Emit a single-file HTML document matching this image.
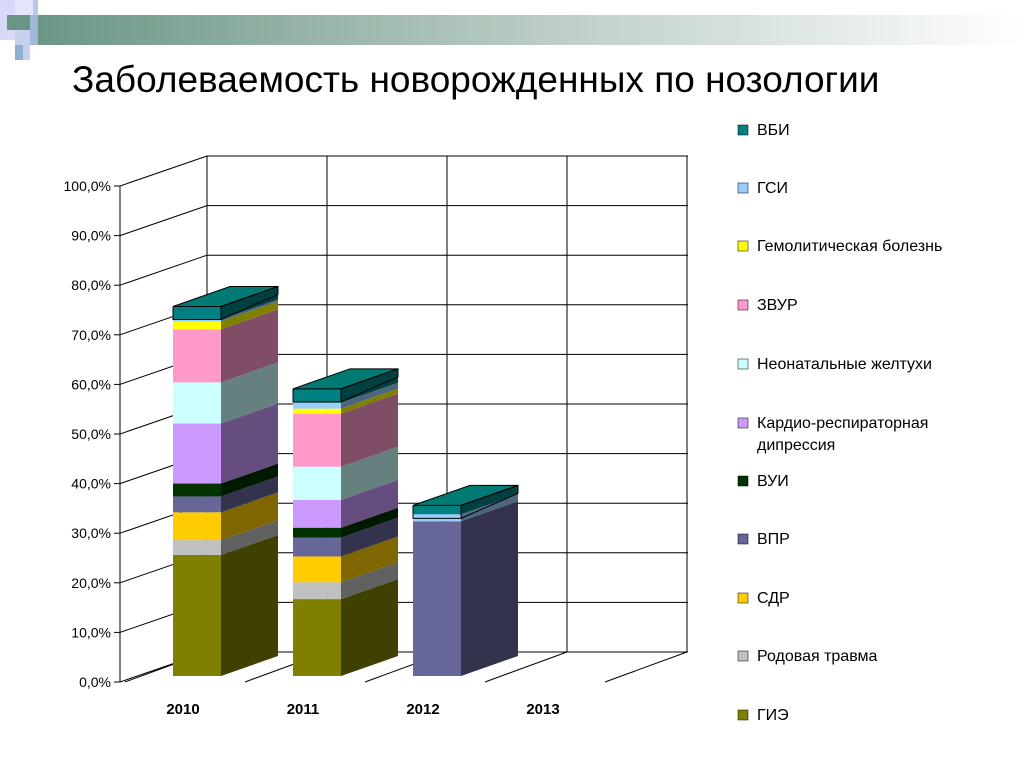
<!DOCTYPE html>
<html><head><meta charset="utf-8"><style>
body{margin:0;background:#fff;}
svg{display:block;font-family:"Liberation Sans",Arial,sans-serif;}
</style></head><body>
<svg width="1024" height="768" viewBox="0 0 1024 768">
<defs><linearGradient id="band" x1="0" x2="1"><stop offset="0" stop-color="#6a9684"/><stop offset="0.5" stop-color="#b9cbc2"/><stop offset="1" stop-color="#ffffff"/></linearGradient></defs>
<g>
<rect x="30" y="15" width="994" height="30" fill="url(#band)"/>
<rect x="0" y="0" width="15" height="40" fill="#d8d8f8"/>
<rect x="15" y="0" width="18" height="15" fill="#e4e4fa"/>
<rect x="33" y="0" width="5" height="15" fill="#b8c8e8"/>
<rect x="7" y="15" width="23" height="15" fill="#6a9684"/>
<rect x="30" y="15" width="8" height="30" fill="#a0b8d8"/>
<rect x="15" y="30" width="15" height="30" fill="#c8d0f0"/>
<rect x="15" y="45" width="8" height="15" fill="#90b0d0"/>
</g>
<text x="72" y="92" font-size="37" fill="#000">Заболеваемость новорожденных по нозологии</text>
<g id="grid"></g>
<g id="bars"></g>
<g id="legend"></g>
</svg>
<script>
const categories = ["2010","2011","2012","2013"];
const seriesNames = ["ГИЭ","Родовая травма","СДР","ВПР","ВУИ","Кардио-респираторная дипрессия","Неонатальные желтухи","ЗВУР","Гемолитическая болезнь","ГСИ","ВБИ"];
const s2010 = [24.4,3.0,5.6,3.2,2.6,12.1,8.3,10.7,1.6,0.4,2.6];
const s2011 = [15.5,3.4,5.2,3.8,2.0,5.6,6.7,10.7,1.0,1.2,2.8];
const s2012 = [0,0,0,31.2,0,0,0,0,0,1.4,1.8];
const s2013 = [0,0,0,0,0,0,0,0,0,0,0];
const yTicks = [0,10,20,30,40,50,60,70,80,90,100];
const values = [s2010,s2011,s2012,s2013];
const fronts = ["#808000","#C0C0C0","#FFCC00","#666699","#003300","#CC99FF","#CCFFFF","#FF99CC","#FFFF00","#99CCFF","#008080"];
const sides = ["#404000","#606060","#806600","#33334D","#001a00","#664D80","#668080","#804D66","#808000","#4D6680","#004040"];
const NS="http://www.w3.org/2000/svg";
function mk(tag,attrs,parent){const e=document.createElementNS(NS,tag);for(const k in attrs)e.setAttribute(k,attrs[k]);parent.appendChild(e);return e;}
// axes
const axY0=682, axPer=4.96, DX=87, DY=-30;
function yAxis(v){return axY0-v*axPer;}
function barY(v){return 676-v*4.96;}
function catX(i){return 173+i*120;}
const grid=document.getElementById('grid');
// back wall grid
yTicks.forEach(t=>{
  const l=mk('line',{x1:207,x2:688,y1:yAxis(t)+DY,y2:yAxis(t)+DY,stroke:'#000','stroke-width':1},grid);
  
  
  const d=mk('line',{x1:120,y1:yAxis(t),x2:207,y2:yAxis(t)+DY,stroke:'#000','stroke-width':1},grid);
  
  
  const tk=mk('line',{x1:114,x2:120,y1:yAxis(t),y2:yAxis(t),stroke:'#000'},grid);
  
  
  const tx=mk('text',{x:111,y:yAxis(t)+5,'text-anchor':'end','font-size':14},grid);
  tx.textContent=t.toFixed(1).replace('.',',')+'%';
  
  
});
for(let i=0;i<=4;i++){
  const x=207+i*120;
  const v=mk('line',{x1:x,x2:x,y1:yAxis(100)+DY,y2:yAxis(0)+DY,stroke:'#000'},grid);
  
  
  const f=mk('line',{x1:x-82,y1:yAxis(0),x2:x,y2:yAxis(0)+DY,stroke:'#000'},grid);
  
  
}
const ax=mk('line',{x1:120,x2:120,y1:yAxis(100),y2:yAxis(0),stroke:'#000'},grid);


categories.forEach((c,i)=>{
  const t=mk('text',{x:catX(i)+10,y:714,'text-anchor':'middle','font-size':15,'font-weight':'bold'},grid);
  t.textContent=c;
  
  
});
// bars
const bars=document.getElementById('bars');
const W=48, BX=57, BY=-20;
values.forEach((arr,i)=>{
  const x=catX(i); let cum=0;
  const total=arr.reduce((a,b)=>a+b,0);
  if(total<=0) return;
  arr.forEach((v,k)=>{
    if(v<=0) return;
    const y1=barY(cum), y2=barY(cum+v); cum+=v;
    const f=mk('rect',{x:x,y:y2,width:W,height:y1-y2,fill:fronts[k]},bars);
    
    
    const s=mk('polygon',{points:`${x+W},${y1} ${x+W+BX},${y1+BY} ${x+W+BX},${y2+BY} ${x+W},${y2}`,fill:sides[k]},bars);
    
    
  });
  const yt=barY(total);
  const top=mk('polygon',{points:`${x},${yt} ${x+BX},${yt+BY} ${x+W+BX},${yt+BY} ${x+W},${yt}`,fill:'#007a72',stroke:'#000','stroke-width':1},bars);
  
  
  const ol=mk('polyline',{points:`${x},${yt} ${x},${yt+13} ${x+W},${yt+13} ${x+W},${yt} ${x+W+BX},${yt+BY} ${x+W+BX},${yt+BY+8} ${x+W},${yt+13}`,fill:'none',stroke:'#000','stroke-width':1},bars);
  
  
});
// legend
const lg=document.getElementById('legend');
const legY=[135,193,251,310,369,428,486,544,603,661,720];
for(let j=0;j<11;j++){
  const k=10-j;
  const r=mk('rect',{x:738,y:legY[j]-10,width:10,height:10,fill:fronts[k],stroke:'#000','stroke-width':0.5},lg);
  
  
  const t=mk('text',{x:757,y:legY[j],'font-size':16},lg);
  
  
  if(k===5){
    t.textContent='Кардио-респираторная';
    const t2=mk('text',{x:757,y:legY[j]+22,'font-size':16},lg);
    t2.textContent='дипрессия';
    
    
  } else t.textContent=seriesNames[k];
}
</script>
</body></html>
